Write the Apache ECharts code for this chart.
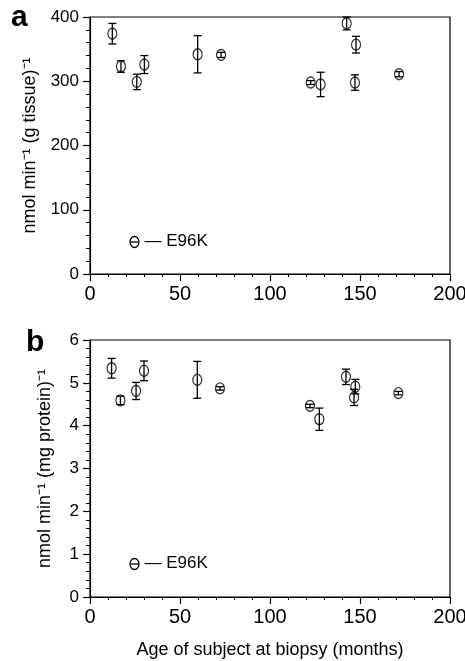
<!DOCTYPE html>
<html>
<head>
<meta charset="utf-8">
<script src="https://cdn.jsdelivr.net/npm/echarts@6/dist/echarts.min.js"></script>
<style>
  html, body { margin: 0; padding: 0; background: #fff; }
  #chart { width: 465px; height: 661px; }
</style>
</head>
<body>
<div id="chart"></div>
<script>
// age at biopsy (months)
var agesA = [12.4, 17.2, 26, 30.2, 59.8, 72.8, 122.6, 128.1, 142.6, 147.8, 147.2, 171.7];
// panel a: nmol min-1 (g tissue)-1
var valuesA = [374, 323, 299, 326, 342, 341, 298, 295, 390, 357, 298, 311];
var errorsA = [16, 9, 12, 14, 29, 4, 3, 19, 10, 13, 12, 4];

var agesB = [12, 16.9, 25.6, 30, 59.6, 72.2, 122.2, 127.4, 142.2, 147.4, 146.7, 171.3];
// panel b: nmol min-1 (mg protein)-1
var valuesB = [5.34, 4.59, 4.81, 5.28, 5.07, 4.87, 4.46, 4.15, 5.14, 4.91, 4.66, 4.76];
var errorsB = [0.23, 0.1, 0.2, 0.23, 0.43, 0.04, 0.04, 0.26, 0.18, 0.17, 0.19, 0.04];

var font = 'Liberation Sans, Arial, sans-serif';

function errData(xs, ys, es) {
  var out = [];
  for (var i = 0; i < xs.length; i++) {
    out.push([xs[i], ys[i] - es[i], ys[i] + es[i]]);
  }
  return out;
}
function pts(xs, ys) {
  var out = [];
  for (var i = 0; i < xs.length; i++) out.push([xs[i], ys[i]]);
  return out;
}

function renderErr(params, api) {
  var lo = api.coord([api.value(0), api.value(1)]);
  var hi = api.coord([api.value(0), api.value(2)]);
  var w = 4;
  var st = { stroke: '#000', lineWidth: 1.3 };
  return {
    type: 'group',
    children: [
      { type: 'line', shape: { x1: lo[0], y1: lo[1], x2: hi[0], y2: hi[1] }, style: st },
      { type: 'line', shape: { x1: lo[0] - w, y1: lo[1], x2: lo[0] + w, y2: lo[1] }, style: st },
      { type: 'line', shape: { x1: hi[0] - w, y1: hi[1], x2: hi[0] + w, y2: hi[1] }, style: st }
    ]
  };
}

function xAx(idx, withName) {
  var a = {
    type: 'value', gridIndex: idx, min: 0, max: 200, interval: 50,
    axisLine: { show: true, lineStyle: { color: '#000', width: 1.2 } },
    axisTick: { show: true, inside: false, length: 7, lineStyle: { color: '#000', width: 1.2 } },
    minorTick: { show: true, splitNumber: 5, length: 3, lineStyle: { color: '#000' } },
    splitLine: { show: false },
    axisLabel: { color: '#000', fontFamily: font, fontSize: 20, margin: 10 }
  };
  if (withName) {
    a.name = 'Age of subject at biopsy (months)';
    a.nameLocation = 'middle';
    a.nameGap = 44;
    a.nameTextStyle = { color: '#000', fontFamily: font, fontSize: 18 };
  }
  return a;
}
function yAx(idx, max, interval, name, gap) {
  return {
    type: 'value', gridIndex: idx, min: 0, max: max, interval: interval,
    name: name, nameLocation: 'middle', nameGap: gap, nameRotate: 90,
    nameTextStyle: { color: '#000', fontFamily: font, fontSize: 18 },
    axisLine: { show: true, lineStyle: { color: '#000', width: 1.2 } },
    axisTick: { show: true, inside: false, length: 7, lineStyle: { color: '#000', width: 1.2 } },
    minorTick: { show: true, splitNumber: 5, length: 4, lineStyle: { color: '#000' } },
    splitLine: { show: false },
    axisLabel: { color: '#000', fontFamily: font, fontSize: 17, margin: 11 }
  };
}

function legendMark(left, top) {
  return { type: 'group', left: left, top: top, children: [
    { type: 'ellipse', shape: { cx: 5, cy: 6, rx: 4.5, ry: 5.5 }, style: { fill: '#fff', stroke: '#000', lineWidth: 1.3 } },
    { type: 'line', shape: { x1: 1, y1: 6, x2: 9, y2: 6 }, style: { stroke: '#000', lineWidth: 1.3 } },
    { type: 'text', left: 15, top: -3, style: { text: '— E96K', font: '17px ' + font, fill: '#000' } }
  ] };
}

var chart = echarts.init(document.getElementById('chart'));
chart.setOption({
  backgroundColor: '#fff',
  animation: false,
  grid: [
    { left: 90, top: 17, width: 360, height: 257, show: true, borderColor: '#000', borderWidth: 1.2, outerBoundsMode: 'none', containLabel: false },
    { left: 90, top: 340, width: 360, height: 257, show: true, borderColor: '#000', borderWidth: 1.2, outerBoundsMode: 'none', containLabel: false }
  ],
  xAxis: [xAx(0, false), xAx(1, true)],
  yAxis: [
    yAx(0, 400, 100, 'nmol min⁻¹ (g tissue)⁻¹', 51),
    yAx(1, 6, 1, 'nmol min⁻¹ (mg protein)⁻¹', 36)
  ],
  graphic: [
    { type: 'text', left: 11, top: 3, style: { text: 'a', font: 'bold 30px ' + font, fill: '#000' } },
    { type: 'text', left: 26, top: 328, style: { text: 'b', font: 'bold 30px ' + font, fill: '#000' } },
    legendMark(128, 233),
    legendMark(128, 555)
  ],
  series: [
    { type: 'custom', xAxisIndex: 0, yAxisIndex: 0, renderItem: renderErr, data: errData(agesA, valuesA, errorsA), z: 1 },
    { name: 'E96K', type: 'scatter', xAxisIndex: 0, yAxisIndex: 0, symbol: 'circle', symbolSize: [9, 11],
      itemStyle: { color: 'rgba(255,255,255,0)', borderColor: '#000', borderWidth: 1.3 }, data: pts(agesA, valuesA), z: 2 },
    { type: 'custom', xAxisIndex: 1, yAxisIndex: 1, renderItem: renderErr, data: errData(agesB, valuesB, errorsB), z: 1 },
    { type: 'scatter', xAxisIndex: 1, yAxisIndex: 1, symbol: 'circle', symbolSize: [9, 11],
      itemStyle: { color: 'rgba(255,255,255,0)', borderColor: '#000', borderWidth: 1.3 }, data: pts(agesB, valuesB), z: 2 }
  ]
});
</script>
</body>
</html>
